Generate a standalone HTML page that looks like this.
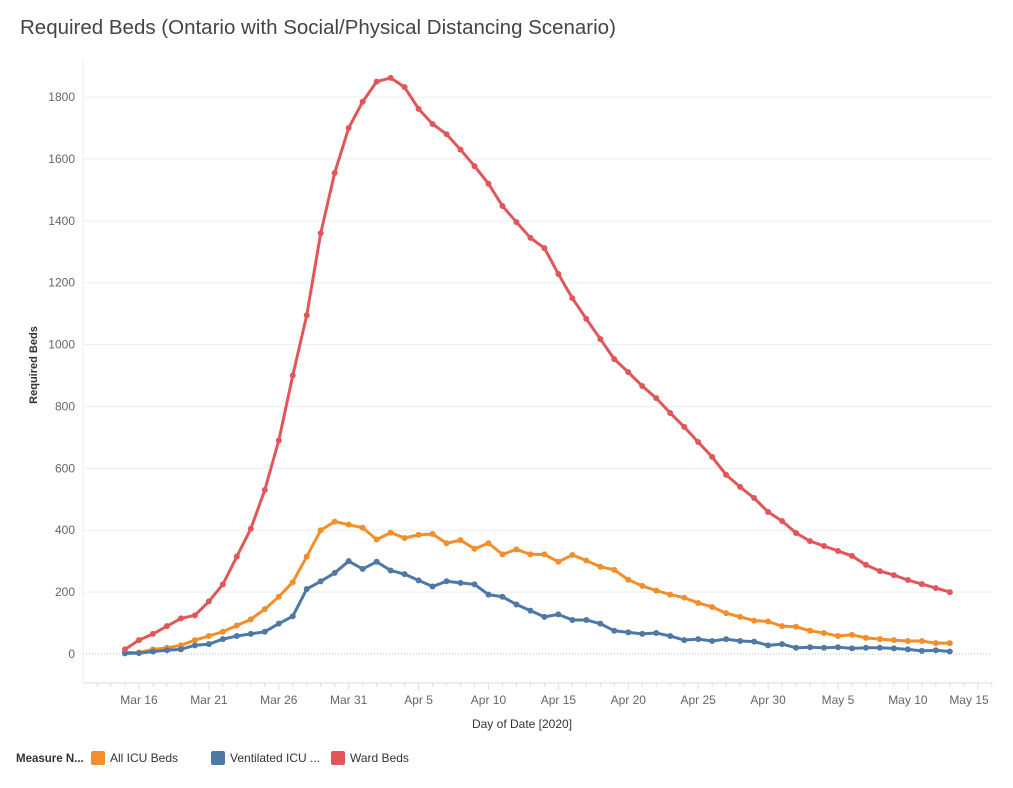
<!DOCTYPE html>
<html><head><meta charset="utf-8"><style>
body{margin:0;background:#fff;font-family:"Liberation Sans",sans-serif}
</style></head><body>
<svg width="1013" height="783" id="svg">
<text x="20" y="34" font-size="20.5" fill="#444">Required Beds (Ontario with Social/Physical Distancing Scenario)</text>
<text transform="translate(37,365) rotate(-90)" text-anchor="middle" font-size="11" font-weight="bold" fill="#333">Required Beds</text>
<text x="522" y="728" text-anchor="middle" font-size="12" fill="#333">Day of Date [2020]</text>
<g id="grid"></g><g id="axes"></g><g id="series"></g>
<g font-size="12" fill="#333">
<text x="16" y="762" font-weight="bold" font-size="11.5">Measure N...</text>
<rect x="91" y="751" width="14" height="14" rx="2" fill="#f28e2b"/>
<text x="110" y="762">All ICU Beds</text>
<rect x="211" y="751" width="14" height="14" rx="2" fill="#4e79a7"/>
<text x="230" y="762">Ventilated ICU ...</text>
<rect x="331" y="751" width="14" height="14" rx="2" fill="#e15759"/>
<text x="350" y="762">Ward Beds</text>
</g>
</svg>
<script>
const ward=[15,45,65,90,115,125,170,225,315,405,530,690,900,1095,1360,1555,1700,1785,1850,1862,1832,1762,1713,1680,1630,1577,1520,1448,1396,1345,1312,1228,1150,1083,1018,953,911,866,827,779,734,685,637,579,540,504,459,430,391,365,349,333,317,288,268,255,239,226,213,200];
const icu=[5,5,15,20,28,45,58,72,92,112,145,185,232,315,400,428,418,408,370,392,375,385,388,358,368,340,358,322,338,322,322,298,320,302,282,272,240,220,205,192,182,165,152,132,120,108,105,90,88,75,68,58,62,52,48,45,42,42,35,35];
const vent=[2,3,8,12,15,28,32,48,58,65,72,98,122,210,235,262,300,275,298,270,258,238,218,235,230,225,192,185,160,140,120,128,110,110,98,75,70,65,68,58,45,48,42,48,42,40,28,32,20,22,20,22,18,20,20,18,15,10,12,8];
const yTicks=[0,200,400,600,800,1000,1200,1400,1600,1800];
const xTickLabels=["Mar 16","Mar 21","Mar 26","Mar 31","Apr 5","Apr 10","Apr 15","Apr 20","Apr 25","Apr 30","May 5","May 10","May 15"];
const NS="http://www.w3.org/2000/svg";
const x=i=>125+i*13.98;
const y=v=>654-v*0.3094;
function mk(t,a,p){const e=document.createElementNS(NS,t);for(const k in a)e.setAttribute(k,a[k]);p.appendChild(e);return e;}
const grid=document.getElementById('grid'),axes=document.getElementById('axes'),ser=document.getElementById('series');
yTicks.forEach(v=>{
 const l=mk('line',{x1:83,x2:992,y1:y(v),y2:y(v),stroke:v===0?'#bbb':'#eee','stroke-dasharray':v===0?'1,2':'none'},grid);
 
 
 const t=mk('text',{x:75,y:y(v)+4,'text-anchor':'end','font-size':12,fill:'#666'},axes);t.textContent=v;
 
 
});
const ax=mk('line',{x1:83,x2:992,y1:683,y2:683,stroke:'#ddd'},axes);


mk('line',{x1:83,x2:83,y1:60,y2:683,stroke:'#eee'},axes);
for(let i=-3;i<=62;i++){const px=x(i);if(px<84||px>992)continue;mk('line',{x1:px,x2:px,y1:683,y2:(i-1)%5===0?690:687,stroke:'#ddd'},axes);}
xTickLabels.forEach((s,k)=>{let px=x(1+5*k);if(px>960)px=969;const t=mk('text',{x:px,y:704,'text-anchor':'middle','font-size':12,fill:'#666'},axes);t.textContent=s;
 
 });
[[icu,'#f28e2b','icu'],[vent,'#4e79a7','vent'],[ward,'#e15759','ward']].forEach(([d,c,n])=>{
 const p=mk('polyline',{points:d.map((v,i)=>x(i)+','+y(v)).join(' '),fill:'none',stroke:c,'stroke-width':3,'stroke-linejoin':'round'},ser);
 
 
 d.forEach((v,i)=>{const m=mk('circle',{cx:x(i),cy:y(v),r:3,fill:c},ser);
  
  });
});
</script>
</body></html>
